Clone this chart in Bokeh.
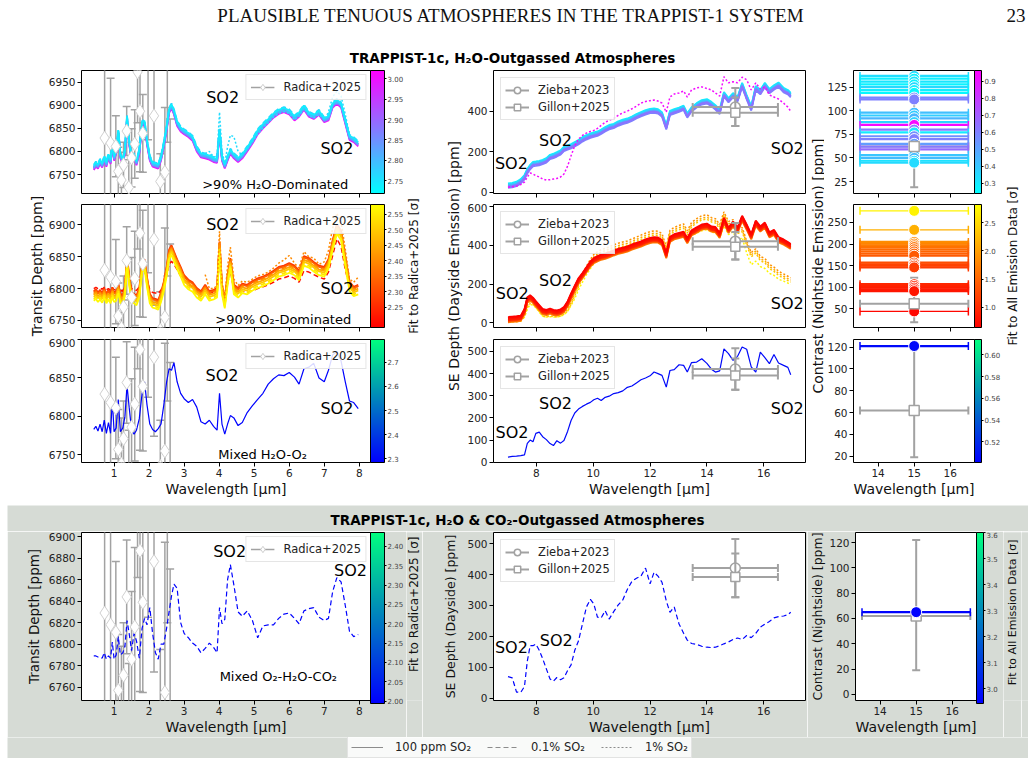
import numpy as np
from bokeh.plotting import figure
from bokeh.layouts import row, column
from bokeh.models import (Range1d, FixedTicker, ColorBar, LinearColorMapper, Legend,
                          LegendItem, PrintfTickFormatter, Spacer)
from bokeh.core.properties import value
from bokeh.embed import file_html
from bokeh.resources import INLINE

# ---------------------------------------------------------------- data
# transmission spectra (ppm) on a common wavelength grid (micron)
transit_wl = [0.42, 0.48, 0.54, 0.60, 0.66, 0.72, 0.78, 0.84, 0.90, 0.95,
              1.00, 1.06, 1.12, 1.18, 1.25, 1.31, 1.37, 1.43, 1.50, 1.57,
              1.64, 1.72, 1.80, 1.87, 1.94, 2.02, 2.10, 2.18, 2.26, 2.34,
              2.42, 2.50, 2.57, 2.64, 2.71, 2.80, 2.90, 3.00, 3.12, 3.24,
              3.36, 3.48, 3.60, 3.72, 3.84, 3.94, 4.01, 4.08, 4.16, 4.24,
              4.32, 4.42, 4.54, 4.66, 4.80, 4.95, 5.10, 5.25, 5.40, 5.55,
              5.70, 5.85, 6.00, 6.15, 6.28, 6.42, 6.56, 6.70, 6.85, 7.00,
              7.12, 7.24, 7.36, 7.48, 7.60, 7.72, 7.84, 7.97]

h2o_transit = [6765, 6772, 6768, 6778, 6770, 6785, 6772, 6790, 6778, 6815,
               6785, 6800, 6842, 6790, 6778, 6800, 6872, 6820, 6785, 6790,
               6775, 6800, 6860, 6862, 6820, 6785, 6772, 6770, 6768, 6785,
               6815, 6850, 6888, 6898, 6885, 6860, 6848, 6842, 6836, 6828,
               6805, 6792, 6790, 6787, 6782, 6780, 6845, 6785, 6768, 6785,
               6800, 6790, 6782, 6790, 6805, 6822, 6842, 6855, 6866, 6878,
               6886, 6890, 6885, 6872, 6880, 6895, 6880, 6875, 6884, 6868,
               6872, 6900, 6908, 6900, 6865, 6830, 6825, 6816]
# 1% SO2 case, from 3.6 micron onwards
h2o_transit_so2 = [6795, 6800, 6788, 6790, 6885, 6800, 6775, 6810, 6835, 6832,
                   6800, 6792, 6805, 6820, 6838, 6850, 6862, 6874, 6882, 6886,
                   6882, 6868, 6876, 6893, 6878, 6872, 6880, 6868, 6885, 6918,
                   6930, 6920, 6880, 6835, 6827, 6818]
h2o_transit_sigma = [2.74, 2.77, 2.80, 2.83, 2.86, 2.90, 2.96, 3.01]
h2o_transit_shift = [4, 6, 1, -1, 2, -3, -1, -5]
h2o_transit_dash = ["solid", "dashed", "solid", "solid", "dashed", "solid", "solid", "solid"]

o2_transit = [6790, 6793, 6788, 6792, 6787, 6795, 6786, 6792, 6786, 6796,
              6788, 6790, 6802, 6786, 6784, 6798, 6845, 6815, 6788, 6786,
              6783, 6795, 6835, 6840, 6812, 6786, 6779, 6778, 6776, 6788,
              6805, 6828, 6855, 6862, 6852, 6840, 6828, 6815, 6808, 6804,
              6795, 6790, 6800, 6790, 6792, 6795, 6868, 6800, 6778, 6815,
              6842, 6800, 6795, 6802, 6800, 6806, 6810, 6813, 6817, 6822,
              6828, 6830, 6834, 6830, 6822, 6845, 6842, 6836, 6830, 6828,
              6840, 6870, 6895, 6885, 6845, 6805, 6797, 6800]
o2_transit_best = [6800, 6802, 6800, 6801, 6799, 6802, 6798, 6800, 6797, 6802,
                   6798, 6799, 6805, 6797, 6796, 6805, 6836, 6815, 6800, 6798,
                   6797, 6803, 6826, 6830, 6812, 6798, 6794, 6793, 6792, 6798,
                   6806, 6822, 6838, 6843, 6838, 6830, 6820, 6812, 6806, 6802,
                   6796, 6794, 6798, 6793, 6794, 6796, 6850, 6800, 6788, 6808,
                   6828, 6798, 6793, 6796, 6794, 6797, 6800, 6803, 6806, 6810,
                   6815, 6817, 6820, 6816, 6810, 6828, 6826, 6822, 6818, 6815,
                   6826, 6852, 6878, 6866, 6830, 6803, 6800, 6804]
o2_transit_so2 = [6822, 6800, 6800, 6805, 6890, 6810, 6785, 6835, 6865, 6815,
                  6805, 6812, 6810, 6815, 6820, 6822, 6826, 6832, 6840, 6845,
                  6852, 6840, 6832, 6858, 6850, 6848, 6838, 6842, 6860, 6895,
                  6918, 6905, 6862, 6815, 6810, 6818]
o2_transit_sigma = [2.27, 2.33, 2.39, 2.44, 2.49, 2.54, 2.57]
o2_transit_shift = [6, 4, 2, 0, -3, -6, -9]
o2_transit_dash = ["solid", "solid", "dashed", "solid", "solid", "dashed", "solid"]

mixed_transit = [6783, 6787, 6781, 6790, 6780, 6795, 6778, 6792, 6778, 6822,
                 6780, 6785, 6822, 6780, 6785, 6800, 6840, 6812, 6782, 6777,
                 6782, 6797, 6830, 6845, 6815, 6790, 6783, 6780, 6784, 6790,
                 6815, 6845, 6862, 6860, 6870, 6845, 6830, 6823, 6818, 6822,
                 6812, 6793, 6790, 6795, 6787, 6782, 6830, 6790, 6777, 6790,
                 6801, 6798, 6788, 6792, 6805, 6814, 6822, 6830, 6842, 6849,
                 6854, 6853, 6857, 6851, 6842, 6862, 6864, 6869, 6850, 6845,
                 6860, 6880, 6884, 6872, 6845, 6820, 6818, 6810]
mixed_transit_sigma = 2.29

co2_transit = [6789, 6789, 6788, 6788, 6787, 6792, 6786, 6789, 6787, 6802,
               6786, 6790, 6807, 6790, 6792, 6798, 6822, 6810, 6794, 6810,
               6803, 6787, 6815, 6824, 6818, 6834, 6810, 6792, 6786, 6800,
               6800, 6815, 6830, 6845, 6856, 6852, 6820, 6810, 6806, 6801,
               6798, 6792, 6796, 6801, 6797, 6792, 6834, 6819, 6823, 6860,
               6874, 6855, 6830, 6826, 6831, 6822, 6806, 6817, 6818, 6818,
               6824, 6828, 6829, 6824, 6819, 6831, 6833, 6834, 6825, 6822,
               6824, 6849, 6862, 6858, 6836, 6812, 6807, 6809]
co2_transit_sigma = 2.0

# Radica+2025 transmission points
radica_wl = [0.73, 0.90, 1.05, 1.12, 1.21, 1.27, 1.36, 1.42, 1.50, 1.59,
             1.67, 1.74, 1.82, 1.97, 2.14, 2.32, 2.45, 2.52, 2.60]
radica_depth = [6829, 6818, 6811, 6757, 6738, 6771, 6844, 6722, 6786, 6816,
                6972, 6887, 6839, 6995, 6877, 6735, 6755, 7010, 6690]
radica_err = [150, 140, 66, 52, 60, 49, 53, 60, 63, 74,
              110, 131, 84, 170, 103, 60, 140, 190, 180]

# dayside emission spectra (ppm)
emission_wl = [7.00, 7.15, 7.30, 7.45, 7.58, 7.68, 7.78, 7.88, 7.98, 8.10,
               8.22, 8.35, 8.48, 8.60, 8.72, 8.85, 8.97, 9.10, 9.22, 9.35,
               9.48, 9.62, 9.76, 9.90, 10.02, 10.15, 10.28, 10.42, 10.56, 10.72,
               10.88, 11.04, 11.20, 11.36, 11.52, 11.68, 11.84, 12.00, 12.14, 12.28,
               12.42, 12.57, 12.70, 12.85, 13.02, 13.18, 13.31, 13.46, 13.64, 13.82,
               14.00, 14.16, 14.30, 14.45, 14.60, 14.76, 14.92, 15.08, 15.24, 15.40,
               15.56, 15.72, 15.88, 16.04, 16.20, 16.36, 16.52, 16.70, 16.85, 16.95]

h2o_emission = [33, 36, 42, 55, 75, 105, 125, 140, 142, 145,
                150, 158, 175, 180, 188, 197, 215, 222, 228, 238,
                248, 262, 272, 280, 285, 290, 300, 312, 322, 328,
                340, 348, 354, 364, 376, 386, 395, 402, 404, 400,
                385, 322, 392, 400, 408, 418, 380, 410, 430, 445,
                450, 436, 420, 398, 485, 455, 480, 460, 530, 470,
                415, 515, 495, 530, 500, 518, 532, 505, 495, 480]
h2o_emission_worst = [25, 27, 30, 38, 50, 75, 95, 90, 82, 75,
                      65, 60, 62, 65, 68, 75, 90, 130, 180, 230,
                      262, 280, 292, 300, 305, 315, 330, 345, 355, 365,
                      380, 392, 400, 412, 425, 440, 448, 452, 455, 450,
                      440, 395, 470, 485, 490, 500, 470, 505, 515, 520,
                      512, 505, 490, 475, 570, 540, 545, 540, 568, 555,
                      505, 540, 510, 520, 480, 470, 460, 440, 420, 400]
h2o_emission_worst_sigma = 0.93
h2o_emission_sigma = [0.28, 0.33, 0.38, 0.44, 0.50, 0.55, 0.60, 0.64]
h2o_emission_shift = [10, 6, 3, 0, -4, -8, -12, -6]
h2o_emission_dash = ["solid", "solid", "dashed", "solid", "solid", "dashed", "solid", "solid"]

o2_emission = [18, 20, 22, 25, 60, 120, 130, 118, 100, 80,
               60, 55, 62, 55, 52, 58, 70, 100, 140, 180,
               218, 245, 275, 305, 322, 332, 340, 345, 352, 362,
               370, 376, 382, 392, 400, 408, 418, 426, 430, 428,
               415, 348, 432, 445, 452, 458, 425, 465, 480, 495,
               500, 485, 482, 452, 530, 478, 510, 480, 540, 495,
               445, 515, 485, 505, 455, 468, 430, 418, 405, 395]
o2_emission_sigma = [0.66, 0.75, 0.85, 0.95, 1.10, 1.30, 1.50, 1.70]
o2_emission_shift = [12, 6, 0, -5, 8, -10, -3, -15]
o2_emission_so2_mid = [14, 15, 16, 18, 40, 90, 110, 105, 90, 68,
                       45, 40, 45, 42, 40, 45, 55, 70, 105, 150,
                       195, 240, 280, 315, 340, 355, 365, 372, 380, 390,
                       398, 405, 410, 420, 430, 440, 450, 458, 462, 460,
                       448, 380, 465, 480, 490, 498, 462, 505, 525, 540,
                       545, 530, 525, 495, 560, 510, 520, 470, 480, 410,
                       350, 370, 330, 320, 290, 275, 255, 240, 228, 220]
o2_emission_so2_mid_sigma = [1.9, 2.1, 2.35]
o2_emission_so2_mid_shift = [12, 0, -10]
o2_emission_so2_worst = [10, 11, 12, 14, 30, 70, 95, 92, 78, 55,
                         35, 30, 32, 30, 30, 34, 42, 60, 90, 125,
                         170, 210, 248, 280, 305, 320, 330, 338, 345, 355,
                         362, 368, 375, 384, 392, 400, 408, 415, 420, 418,
                         405, 345, 420, 432, 440, 445, 412, 450, 462, 475,
                         480, 468, 465, 438, 500, 455, 470, 420, 440, 360,
                         300, 318, 290, 280, 255, 245, 225, 215, 205, 198]
o2_emission_so2_worst_sigma = 2.75

mixed_emission = [23, 26, 27, 30, 33, 85, 100, 92, 130, 136,
                  115, 102, 84, 75, 97, 86, 98, 140, 188, 222,
                  240, 252, 262, 270, 282, 289, 279, 293, 298, 310,
                  314, 322, 338, 344, 358, 372, 380, 390, 407, 400,
                  392, 339, 414, 418, 440, 437, 407, 450, 452, 467,
                  446, 420, 407, 412, 512, 490, 460, 478, 520, 510,
                  430, 407, 497, 472, 445, 486, 448, 437, 428, 395]

co2_emission = [70, 66, 20, 19, 38, 120, 170, 170, 175, 155,
                128, 95, 62, 55, 67, 60, 66, 90, 108, 155,
                185, 240, 295, 320, 305, 262, 260, 283, 256, 280,
                302, 318, 352, 378, 388, 395, 421, 370, 407, 395,
                375, 315, 278, 295, 240, 210, 188, 177, 174, 168,
                165, 164, 165, 170, 176, 182, 190, 195, 190, 203,
                196, 210, 230, 240, 248, 260, 264, 266, 270, 278]

# MIRI 15 micron photometry
phot_wl = 15.0
phot_halfwidth = 1.5
zieba_depth, zieba_err = 421, 94
gillon_depth, gillon_low, gillon_high = 392, 327, 468
night_contrast, night_low, night_high = 62, 19, 122

# nightside contrast of each model and its fit to all emission data
h2o_night = [137, 134, 131, 128, 125, 122, 119, 114, 112, 98,
             95, 92, 88, 85, 80, 77, 73, 70, 65, 62,
             59, 53, 50, 47, 45]
h2o_night_sigma = [0.33, 0.28, 0.31, 0.27, 0.35, 0.29, 0.26, 0.58, 0.60, 0.42,
                   0.38, 0.45, 0.36, 0.94, 0.62, 0.30, 0.56, 0.60, 0.52, 0.62,
                   0.66, 0.40, 0.43, 0.32, 0.34]
o2_night = [277, 233, 205, 201, 197, 193, 188, 183, 178, 173,
            157, 153, 150, 146, 107, 103, 99, 95, 91, 44]
o2_night_sigma = [2.72, 2.15, 1.85, 1.78, 1.70, 1.62, 1.55, 1.50, 1.45, 1.40,
                  1.30, 1.25, 1.20, 1.15, 0.98, 0.94, 0.90, 0.86, 0.82, 0.70]
mixed_night, mixed_night_sigma = [121], [0.505]
co2_night, co2_night_sigma = [65], [2.95]

# ---------------------------------------------------------------- style
SANS = "DejaVu Sans"
SERIF = "Liberation Serif"
GREY_BG = "#d6dbd5"
OBS = "#a2a2a2"
DASH = {"solid": "solid", "dashed": "5 3", "dotted": "2 2"}
TICK_FONT = "10.5px"
LABEL_FONT = "14px"
CBAR_LABEL_FONT = "12px"


def ramp(c0, c1, n=256):
    out = []
    for t in np.linspace(0, 1, n):
        rgb = [int(round(255 * (a + (b - a) * t))) for a, b in zip(c0, c1)]
        out.append("#%02x%02x%02x" % tuple(rgb))
    return out


COOL = ramp((0, 1, 1), (1, 0, 1))
AUTUMN = ramp((1, 0, 0), (1, 1, 0))
WINTER = ramp((0, 0, 1), (0, 1, 0.5))


def pick(pal, lo, hi, v):
    t = min(max((v - lo) / (hi - lo), 0.0), 1.0)
    return pal[int(round(t * (len(pal) - 1)))]


def blank(w, h, bg):
    p = figure(width=w, height=h, x_range=Range1d(0, w), y_range=Range1d(0, h),
               x_axis_type=None, y_axis_type=None, min_border=0,
               output_backend="svg", toolbar_location=None)
    p.outline_line_color = None
    p.background_fill_color = bg
    p.border_fill_color = bg
    p.xgrid.visible = False
    p.ygrid.visible = False
    return p


def vlabel(w, h, bg, x, y, s, size=LABEL_FONT):
    # strip holding a rotated label that spans several panels
    p = blank(w, h, bg)
    p.text(x=[x], y=[y], text=[s], angle=np.pi / 2, text_font=value(SANS),
           text_font_size=size, text_align="center", text_baseline="middle",
           text_color="#111111")
    return p


def panel(w, h, left, right, top, bottom, xr, yr, xticks, yticks, show_x,
          xlabel=None, ylabel=None, ylabel_size=LABEL_FONT, ylabel_gap=1, bg="white"):
    p = figure(width=w, height=h, x_range=Range1d(*xr), y_range=Range1d(*yr),
               min_border_left=left, min_border_right=right,
               min_border_top=top, min_border_bottom=bottom,
               output_backend="svg", toolbar_location=None)
    p.border_fill_color = bg
    p.background_fill_color = "white"
    p.outline_line_color = "black"
    p.outline_line_width = 1
    p.xgrid.visible = False
    p.ygrid.visible = False
    for ax, ticks in ((p.xaxis[0], xticks), (p.yaxis[0], yticks)):
        ax.ticker = FixedTicker(ticks=ticks)
        ax.axis_line_color = None
        ax.major_tick_in = 0
        ax.major_tick_out = 4
        ax.major_tick_line_color = "black"
        ax.minor_tick_line_color = None
        ax.major_label_text_font = SANS
        ax.major_label_text_font_size = TICK_FONT
        ax.major_label_text_color = "#222222"
        ax.major_label_standoff = 2
        ax.axis_label_text_font = SANS
        ax.axis_label_text_font_size = LABEL_FONT
        ax.axis_label_text_font_style = "normal"
        ax.axis_label_text_color = "#111111"
        ax.axis_label_standoff = 1
    if not show_x:
        p.xaxis[0].major_label_overrides = {t: "" for t in xticks}
        p.xaxis[0].major_label_text_font_size = "0px"
        p.xaxis[0].major_label_standoff = 0
    if xlabel:
        p.xaxis[0].axis_label = xlabel
    if ylabel:
        p.yaxis[0].axis_label = ylabel
        p.yaxis[0].axis_label_text_font_size = ylabel_size
        p.yaxis[0].axis_label_standoff = ylabel_gap
    return p


def colorbar(p, pal, lo, hi, ticks, fmt, bar_w, gap, frame_h):
    cb = ColorBar(color_mapper=LinearColorMapper(palette=pal, low=lo, high=hi),
                  ticker=FixedTicker(ticks=ticks),
                  formatter=PrintfTickFormatter(format=fmt),
                  width=bar_w, height=frame_h, margin=gap, padding=0,
                  major_label_text_font=SANS, major_label_text_font_size="7px",
                  major_tick_in=0, major_tick_out=2,
                  major_tick_line_color="black", minor_tick_line_color=None,
                  label_standoff=1, bar_line_color="black", bar_line_width=1,
                  border_line_color=None, background_fill_alpha=0)
    p.add_layout(cb, "right")


def note(p, x, y, s, size):
    p.text(x=[x], y=[y], text=[s], text_font=value(SANS), text_font_size=size,
           text_align="center", text_baseline="middle", text_color="black")


def legend(p, items, loc, margin):
    leg = Legend(items=[LegendItem(label=l, renderers=r) for l, r in items],
                 location=loc, margin=margin, padding=4, spacing=1,
                 label_text_font=SANS, label_text_font_size="11.5px",
                 label_text_color="#222222",
                 glyph_width=24, glyph_height=16, label_standoff=9,
                 border_line_color="#cccccc", border_line_width=1,
                 background_fill_color="white", background_fill_alpha=0.85)
    p.add_layout(leg)


def radica_bars(p):
    lo = [d - e for d, e in zip(radica_depth, radica_err)]
    hi = [d + e for d, e in zip(radica_depth, radica_err)]
    seg = p.segment(x0=radica_wl, y0=lo, x1=radica_wl, y1=hi,
                    line_color=OBS, line_width=1.5)
    p.scatter(x=radica_wl + radica_wl, y=lo + hi, marker="dash", size=8,
              line_color=OBS, line_width=1.5)
    return seg


def radica_points(p, seg):
    dia = p.scatter(x=radica_wl, y=radica_depth, marker="diamond", size=14,
                    fill_color="white", line_color="#d0d0d0", line_width=1)
    legend(p, [("Radica+2025", [seg, dia])], "top_right", 4)


def dayside_obs(p):
    entries = []
    for y, lo, hi, mk, sz in ((zieba_depth, zieba_depth - zieba_err, zieba_depth + zieba_err, "circle", 10),
                              (gillon_depth, gillon_low, gillon_high, "square", 9)):
        h = p.segment(x0=[phot_wl - phot_halfwidth], x1=[phot_wl + phot_halfwidth],
                      y0=[y], y1=[y], line_color=OBS, line_width=2)
        p.segment(x0=[phot_wl], x1=[phot_wl], y0=[lo], y1=[hi], line_color=OBS, line_width=2)
        p.scatter(x=[phot_wl - phot_halfwidth, phot_wl + phot_halfwidth], y=[y, y],
                  marker="dash", angle=np.pi / 2, size=8, line_color=OBS, line_width=2)
        p.scatter(x=[phot_wl, phot_wl], y=[lo, hi], marker="dash", size=8,
                  line_color=OBS, line_width=2)
        m = p.scatter(x=[phot_wl], y=[y], marker=mk, size=sz, fill_color="white",
                      line_color=OBS, line_width=1.5)
        entries.append([h, m])
    legend(p, [("Zieba+2023", entries[0]), ("Gillon+2025", entries[1])], "top_left", 7)


def night_obs(p):
    x0, x1 = phot_wl - phot_halfwidth, phot_wl + phot_halfwidth
    p.segment(x0=[x0], x1=[x1], y0=[night_contrast], y1=[night_contrast],
              line_color=OBS, line_width=2)
    p.segment(x0=[phot_wl], x1=[phot_wl], y0=[night_low], y1=[night_high],
              line_color=OBS, line_width=2)
    p.scatter(x=[x0, x1], y=[night_contrast] * 2, marker="dash", angle=np.pi / 2,
              size=8, line_color=OBS, line_width=2)
    p.scatter(x=[phot_wl] * 2, y=[night_low, night_high], marker="dash", size=8,
              line_color=OBS, line_width=2)


def night_models(p, vals, sigmas, pal, lo, hi, thin=()):
    n = len(vals)
    cols = [pick(pal, lo, hi, s) for s in sigmas]
    widths = [1.2 if v in thin else 2.2 for v in vals]
    x0, x1 = phot_wl - phot_halfwidth, phot_wl + phot_halfwidth
    p.segment(x0=[x0] * n, x1=[x1] * n, y0=vals, y1=vals, line_color=cols,
              line_width=widths)
    p.scatter(x=[x0] * n + [x1] * n, y=list(vals) * 2, marker="dash",
              angle=np.pi / 2, size=8, line_color=cols * 2, line_width=1.5)
    p.scatter(x=[phot_wl] * n, y=vals, marker="circle", size=11, fill_color=cols,
              line_color="white", line_width=1)


def night_square(p):
    p.scatter(x=[phot_wl], y=[night_contrast], marker="square", size=10,
              fill_color="white", line_color=OBS, line_width=1.5)


# ---------------------------------------------------------------- geometry
TR_X = (0.07, 8.32)
EM_X = (6.49, 17.47)
NI_X = (13.32, 16.67)
TR_TICKS = [1, 2, 3, 4, 5, 6, 7, 8]
EM_TICKS = [8, 10, 12, 14, 16]
NI_TICKS = [14, 15, 16]
WL = "Wavelength [μm]"

# column widths and borders (pixels)
Y1_W = 44
C1_W, C1_L, C1_R = 362, 37, 33
L1_W = 16
Y2_W = 42
C2_W, C2_L, C2_R = 343, 29, 2
Y3_W = 17
C3_W, C3_L, C3_R = 179, 28, 27
L2_W = 18

# row heights (top block): height, top border, bottom border
ROWS = [(137, 4, 10), (135, 1, 11), (162, 1, 38)]
TOP_H = sum(r[0] for r in ROWS)

# colour scale limits
h2o_lo, h2o_hi = 2.719, 3.020
o2_lo, o2_hi = 2.185, 2.582
mx_lo, mx_hi = 2.285, 2.794
c2_lo, c2_hi = 1.994, 2.436
nh_lo, nh_hi = 0.239, 0.963
no_lo, no_hi = 0.639, 2.826
nm_lo, nm_hi = 0.501, 0.614
nc_lo, nc_hi = 2.943, 3.60

SO2_FONT = "16px"

# ---------------------------------------------------------------- top block
# column 1: transmission
t1 = panel(C1_W, ROWS[0][0], C1_L, C1_R, ROWS[0][1], ROWS[0][2], TR_X, (6709, 6975),
           TR_TICKS, [6750, 6800, 6850, 6900, 6950], False)
seg = radica_bars(t1)
for s, sh, d in sorted(zip(h2o_transit_sigma, h2o_transit_shift, h2o_transit_dash), reverse=True):
    t1.line(transit_wl, [v + sh for v in h2o_transit], line_color=pick(COOL, h2o_lo, h2o_hi, s),
            line_width=1.8, line_dash=DASH[d])
t1.line(transit_wl[42:], h2o_transit_so2, line_color=pick(COOL, h2o_lo, h2o_hi, 2.76),
        line_width=1.5, line_dash=DASH["dotted"])
radica_points(t1, seg)
note(t1, 4.1, 6917, "SO2", SO2_FONT)
note(t1, 7.36, 6806, "SO2", SO2_FONT)
note(t1, 5.6, 6729, ">90% H\u2082O-Dominated", "13px")
colorbar(t1, COOL, h2o_lo, h2o_hi, [2.75, 2.80, 2.85, 2.90, 2.95, 3.00], "%.2f", 14, 3, 123)

t2 = panel(C1_W, ROWS[1][0], C1_L, C1_R, ROWS[1][1], ROWS[1][2], TR_X, (6739, 6932),
           TR_TICKS, [6750, 6800, 6850, 6900], False)
seg = radica_bars(t2)
t2.line(transit_wl, o2_transit_best, line_color=pick(AUTUMN, o2_lo, o2_hi, 2.21),
        line_width=1.5, line_dash=DASH["dashed"])
for s, sh, d in zip(o2_transit_sigma, o2_transit_shift, o2_transit_dash):
    t2.line(transit_wl, [v + sh for v in o2_transit], line_color=pick(AUTUMN, o2_lo, o2_hi, s),
            line_width=1.8, line_dash=DASH[d])
t2.line(transit_wl[42:], o2_transit_so2, line_color=pick(AUTUMN, o2_lo, o2_hi, 2.40),
        line_width=1.5, line_dash=DASH["dotted"])
radica_points(t2, seg)
note(t2, 4.1, 6900, "SO2", SO2_FONT)
note(t2, 7.36, 6800, "SO2", SO2_FONT)
note(t2, 5.83, 6751, ">90% O\u2082-Dominated", "13px")
colorbar(t2, AUTUMN, o2_lo, o2_hi, [2.25, 2.30, 2.35, 2.40, 2.45, 2.50, 2.55], "%.2f", 14, 3, 123)

t3 = panel(C1_W, ROWS[2][0], C1_L, C1_R, ROWS[2][1], ROWS[2][2], TR_X, (6740, 6900),
           TR_TICKS, [6750, 6800, 6850, 6900], True, xlabel=WL)
seg = radica_bars(t3)
t3.line(transit_wl, mixed_transit, line_color=pick(WINTER, mx_lo, mx_hi, mixed_transit_sigma),
        line_width=1.2)
radica_points(t3, seg)
note(t3, 4.08, 6853, "SO2", SO2_FONT)
note(t3, 7.36, 6810, "SO2", SO2_FONT)
note(t3, 5.24, 6750, "Mixed H\u2082O-O\u2082", "13px")
colorbar(t3, WINTER, mx_lo, mx_hi, [2.3, 2.4, 2.5, 2.6, 2.7], "%.1f", 14, 3, 123)

# column 2: dayside emission
e1 = panel(C2_W, ROWS[0][0], C2_L, C2_R, ROWS[0][1], ROWS[0][2], EM_X, (-6.4, 601),
           EM_TICKS, [0, 200, 400], False)
for s, sh, d in zip(h2o_emission_sigma, h2o_emission_shift, h2o_emission_dash):
    e1.line(emission_wl, [v + sh for v in h2o_emission], line_color=pick(COOL, nh_lo, nh_hi, s),
            line_width=1.8, line_dash=DASH[d])
e1.line(emission_wl, h2o_emission_worst, line_color=pick(COOL, nh_lo, nh_hi, h2o_emission_worst_sigma),
        line_width=1.5, line_dash=DASH["dotted"])
dayside_obs(e1)
note(e1, 7.12, 142, "SO2", SO2_FONT)
note(e1, 8.67, 255, "SO2", SO2_FONT)
note(e1, 16.83, 214, "SO2", SO2_FONT)

e2 = panel(C2_W, ROWS[1][0], C2_L, C2_R, ROWS[1][1], ROWS[1][2], EM_X, (-24, 610),
           EM_TICKS, [0, 200, 400, 600], False)
e2.line(emission_wl, o2_emission_so2_worst, line_color=pick(AUTUMN, no_lo, no_hi, o2_emission_so2_worst_sigma),
        line_width=1.5, line_dash=DASH["dotted"])
for s, sh in zip(o2_emission_so2_mid_sigma, o2_emission_so2_mid_shift):
    e2.line(emission_wl, [v + sh for v in o2_emission_so2_mid], line_color=pick(AUTUMN, no_lo, no_hi, s),
            line_width=1.5, line_dash=DASH["dotted"])
for s, sh in zip(o2_emission_sigma[::-1], o2_emission_shift[::-1]):
    e2.line(emission_wl, [v + sh for v in o2_emission], line_color=pick(AUTUMN, no_lo, no_hi, s),
            line_width=1.8)
dayside_obs(e2)
note(e2, 7.15, 153, "SO2", SO2_FONT)
note(e2, 8.67, 218, "SO2", SO2_FONT)
note(e2, 16.83, 98, "SO2", SO2_FONT)

e3 = panel(C2_W, ROWS[2][0], C2_L, C2_R, ROWS[2][1], ROWS[2][2], EM_X, (-1.4, 554),
           EM_TICKS, [0, 100, 200, 300, 400, 500], True, xlabel=WL)
e3.line(emission_wl, mixed_emission, line_color=pick(WINTER, nm_lo, nm_hi, mixed_night_sigma[0]),
        line_width=1.2)
dayside_obs(e3)
note(e3, 7.14, 136, "SO2", SO2_FONT)
note(e3, 8.67, 264, "SO2", SO2_FONT)
note(e3, 16.83, 241, "SO2", SO2_FONT)

# column 3: nightside contrast
n1 = panel(C3_W, ROWS[0][0], C3_L, C3_R, ROWS[0][1], ROWS[0][2], NI_X, (12.3, 142.7),
           NI_TICKS, [25, 50, 75, 100, 125], False)
night_obs(n1)
night_models(n1, h2o_night, h2o_night_sigma, COOL, nh_lo, nh_hi)
night_square(n1)
colorbar(n1, COOL, nh_lo, nh_hi, [0.3, 0.4, 0.5, 0.6, 0.7, 0.8, 0.9], "%.1f", 7, 1, 123)

n2 = panel(C3_W, ROWS[1][0], C3_L, C3_R, ROWS[1][1], ROWS[1][2], NI_X, (6.7, 291.7),
           NI_TICKS, [50, 100, 150, 200, 250], False)
night_obs(n2)
night_models(n2, o2_night, o2_night_sigma, AUTUMN, no_lo, no_hi, thin=(277, 233, 44))
night_square(n2)
colorbar(n2, AUTUMN, no_lo, no_hi, [1.0, 1.5, 2.0, 2.5], "%.1f", 7, 1, 123)

n3 = panel(C3_W, ROWS[2][0], C3_L, C3_R, ROWS[2][1], ROWS[2][2], NI_X, (14.2, 127),
           NI_TICKS, [20, 40, 60, 80, 100, 120], True, xlabel=WL)
night_obs(n3)
night_square(n3)
night_models(n3, mixed_night, mixed_night_sigma, WINTER, nm_lo, nm_hi)
colorbar(n3, WINTER, nm_lo, nm_hi, [0.52, 0.54, 0.56, 0.58, 0.60], "%.2f", 7, 1, 123)

TOP_MID = TOP_H - 199.5
top = row(vlabel(Y1_W, TOP_H, "white", 36, TOP_MID, "Transit Depth [ppm]"),
          column(t1, t2, t3),
          vlabel(L1_W, TOP_H, "white", 7, TOP_MID, "Fit to Radica+2025 [\u03c3]", CBAR_LABEL_FONT),
          vlabel(Y2_W, TOP_H, "white", 31, TOP_MID, "SE Depth (Dayside Emission) [ppm]"),
          column(e1, e2, e3),
          vlabel(Y3_W, TOP_H, "white", 10, TOP_MID, "Contrast (Nightside Emission) [ppm]"),
          column(n1, n2, n3),
          vlabel(L2_W, TOP_H, "white", 9, TOP_MID, "Fit to All Emission Data [\u03c3]", CBAR_LABEL_FONT),
          Spacer(width=1035 - Y1_W - C1_W - L1_W - Y2_W - C2_W - Y3_W - C3_W - L2_W, height=TOP_H))

# ---------------------------------------------------------------- header
head = blank(1035, 66, "white")
head.text(x=[511], y=[51], text=["PLAUSIBLE TENUOUS ATMOSPHERES IN THE TRAPPIST-1 SYSTEM"],
          text_font=value(SERIF), text_font_size="19px", text_align="center",
          text_baseline="middle", text_color="#111111")
head.text(x=[1025], y=[51], text=["23"], text_font=value(SERIF), text_font_size="19px",
          text_align="right", text_baseline="middle", text_color="#111111")
head.text(x=[512], y=[9], text=["TRAPPIST-1c, H\u2082O-Outgassed Atmospheres"],
          text_font=value(SANS), text_font_size="13.5px", text_font_style="bold",
          text_align="center", text_baseline="middle", text_color="black")

# ---------------------------------------------------------------- bottom block
BH, BT, BB = 206, 1, 34
BOT_MID = BH - 88
BOT_LABEL_FONT = "12.5px"
B1_W, B1_L = 399, 74
B2_W, B2_L = 385, 71
B3_W, B3_L = 196, 45
b1 = panel(B1_W, BH, B1_L, C1_R, BT, BB, TR_X, (6747.5, 6904), TR_TICKS,
           [6760, 6780, 6800, 6820, 6840, 6860, 6880, 6900], True, xlabel=WL,
           ylabel="Transit Depth [ppm]", ylabel_size="13.5px", ylabel_gap=4, bg=GREY_BG)
seg = radica_bars(b1)
b1.line(transit_wl, co2_transit, line_color=pick(WINTER, c2_lo, c2_hi, co2_transit_sigma),
        line_width=1.2, line_dash=DASH["dashed"])
radica_points(b1, seg)
note(b1, 4.3, 6886, "SO2", SO2_FONT)
note(b1, 7.75, 6869, "SO2", SO2_FONT)
note(b1, 5.69, 6770, "Mixed O\u2082-H\u2082O-CO\u2082", "13px")
colorbar(b1, WINTER, c2_lo, c2_hi, [2.00, 2.05, 2.10, 2.15, 2.20, 2.25, 2.30, 2.35, 2.40],
         "%.2f", 14, 3, 171)

b2 = panel(B2_W, BH, B2_L, C2_R, BT, BB, EM_X, (-7.3, 536), EM_TICKS,
           [0, 100, 200, 300, 400, 500], True, xlabel=WL,
           ylabel="SE Depth (Dayside) [ppm]", ylabel_size=BOT_LABEL_FONT, ylabel_gap=6, bg=GREY_BG)
b2.line(emission_wl, co2_emission, line_color=pick(WINTER, nc_lo, nc_hi, co2_night_sigma[0]),
        line_width=1.2, line_dash=DASH["dashed"])
dayside_obs(b2)
note(b2, 7.12, 164, "SO2", SO2_FONT)
note(b2, 8.7, 187, "SO2", SO2_FONT)

b3 = panel(B3_W, BH, B3_L, C3_R, BT, BB, NI_X, (-4.9, 128), NI_TICKS,
           [0, 20, 40, 60, 80, 100, 120], True, xlabel=WL,
           ylabel="Contrast (Nightside) [ppm]", ylabel_size=BOT_LABEL_FONT, ylabel_gap=1, bg=GREY_BG)
night_obs(b3)
night_square(b3)
night_models(b3, co2_night, co2_night_sigma, WINTER, nc_lo, nc_hi)
colorbar(b3, WINTER, nc_lo, nc_hi, [3.0, 3.1, 3.2, 3.3, 3.4, 3.5, 3.6], "%.1f", 7, 1, 171)

GW = 1035 - 14
btitle = blank(GW, 26, GREY_BG)
btitle.text(x=[510], y=[12], text=["TRAPPIST-1c, H\u2082O & CO\u2082-Outgassed Atmospheres"],
            text_font=value(SANS), text_font_size="13.5px", text_font_style="bold",
            text_align="center", text_baseline="middle", text_color="black")

# figure-wide legend for the SO2 abundance line styles
bleg = blank(GW, 21, GREY_BG)
items = []
for lab, d in (("100 ppm SO\u2082", "solid"), ("0.1% SO\u2082", "dashed"), ("1% SO\u2082", "dotted")):
    r = bleg.line(x=[-20, -10], y=[-20, -20], line_color="#8c8c8c", line_width=1.2,
                  line_dash=DASH[d])
    items.append(LegendItem(label=lab, renderers=[r]))
bleg.add_layout(Legend(items=items, orientation="horizontal", location=(340, 0),
                       margin=0, padding=3, spacing=16, glyph_width=32, glyph_height=14,
                       label_standoff=12, label_text_font=SANS, label_text_font_size="11.5px",
                       label_text_color="#222222", border_line_color="#cccccc",
                       background_fill_color="white", background_fill_alpha=0.85))

used = B1_W + L1_W + B2_W + B3_W + L2_W
panels_row = row(b1,
                 vlabel(L1_W, BH, GREY_BG, 7, BOT_MID, "Fit to Radica+2025 [\u03c3]", CBAR_LABEL_FONT),
                 b2,
                 b3,
                 vlabel(L2_W, BH, GREY_BG, 9, BH - 98, "Fit to All Emission Data [\u03c3]", "11px"),
                 blank(GW - used, BH, GREY_BG))
grey_block = column(btitle, panels_row, bleg)
bottom = column(Spacer(width=1035, height=5),
                row(Spacer(width=7, height=253), grey_block, Spacer(width=7, height=253)),
                Spacer(width=1035, height=6))

page = column(head, top, bottom)
open("out.html", "w").write(file_html(page, INLINE))
